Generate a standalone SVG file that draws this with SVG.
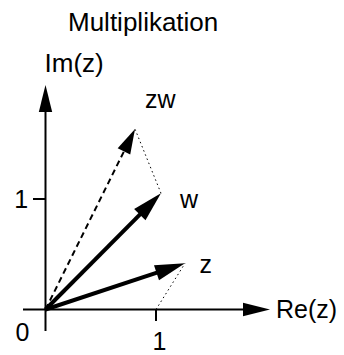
<svg xmlns="http://www.w3.org/2000/svg" width="344" height="355" viewBox="0 0 344 355">
<style>
text{font-family:"Liberation Sans",Arial,sans-serif;font-size:25px;fill:#000}
.big{font-size:26px}
.ax{stroke:#000;stroke-width:2;fill:none}
.vec{stroke:#000;stroke-width:4;fill:none}
.dash{stroke:#000;stroke-width:2;stroke-dasharray:6 4;fill:none}
.dot{stroke:#000;stroke-width:1;stroke-dasharray:1.5 3;fill:none}
</style>
<defs>
<marker id="mAx" markerUnits="userSpaceOnUse" markerWidth="28" markerHeight="14" refX="17" refY="6.7" orient="auto" overflow="visible">
<path d="M0,0 L27,6.7 L0,13.4 Z" fill="#000"/>
</marker>
<marker id="mVec" markerUnits="userSpaceOnUse" markerWidth="31" markerHeight="17" refX="18" refY="8" orient="auto" overflow="visible">
<path d="M0,0 L30,8 L0,16 Z" fill="#000"/>
</marker>
<marker id="mZw" markerUnits="userSpaceOnUse" markerWidth="26" markerHeight="15" refX="15" refY="7" orient="auto" overflow="visible">
<path d="M0,0 L25,7 L0,14 Z" fill="#000"/>
</marker>
</defs>
<text class="big" x="68" y="31">Multiplikation</text>
<g id="axes">
<line class="ax" x1="23" y1="309.5" x2="260" y2="309.5" marker-end="url(#mAx)"/>
<line class="ax" x1="45.5" y1="331" x2="45.5" y2="95" marker-end="url(#mAx)"/>
<line class="ax" x1="33" y1="199" x2="45.5" y2="199"/>
<line class="ax" x1="156" y1="309.5" x2="156" y2="321"/>
</g>
<g id="labels">
<text class="big" x="44.5" y="72">Im(z)</text>
<text x="276" y="318">Re(z)</text>
<text x="15.5" y="341">0</text>
<text x="14.3" y="207.5">1</text>
<text x="152.5" y="350">1</text>
</g>
<g id="connectors">
<line class="dot" x1="156" y1="309.5" x2="185" y2="263.3"/>
<line class="dot" x1="161" y1="193.3" x2="135" y2="129"/>
<line class="dash" x1="45.5" y1="309.5" x2="130.6" y2="138" marker-end="url(#mZw)"/>
<line class="vec" x1="45.5" y1="309.5" x2="152.5" y2="201.8" marker-end="url(#mVec)"/>
<line class="vec" x1="45.5" y1="309.5" x2="173.6" y2="267.1" marker-end="url(#mVec)"/>
</g>
<g id="node-zw"><text x="145" y="108">zw</text></g>
<g id="node-w"><text x="180" y="208">w</text></g>
<g id="node-z"><text x="199.5" y="273">z</text></g>
</svg>
